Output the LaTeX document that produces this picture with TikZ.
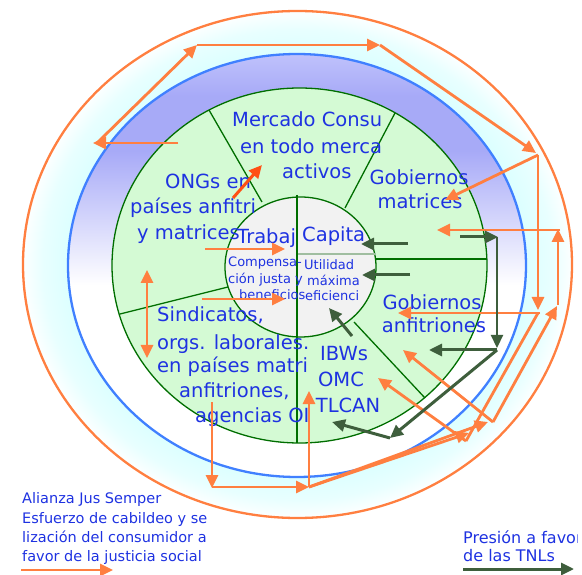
\documentclass[tikz,border=0pt]{standalone}
\usepackage{fontspec}
\setmainfont{DejaVu Sans}
\usetikzlibrary{arrows.meta}
\definecolor{orng}{RGB}{255,127,64}
\definecolor{blu}{RGB}{64,128,255}
\definecolor{grnfill}{RGB}{212,250,212}
\definecolor{grnline}{RGB}{0,110,0}
\definecolor{txt}{RGB}{30,50,225}
\definecolor{dg}{RGB}{62,94,60}
\definecolor{redarr}{RGB}{255,80,20}
\definecolor{innergray}{RGB}{242,242,242}
\definecolor{thingray}{RGB}{160,190,160}
\pgfdeclareradialshading{cyanring}{\pgfpoint{0bp}{0bp}}{rgb(0bp)=(1,1,1); rgb(20bp)=(1,1,1); rgb(20.8bp)=(0.86,1,1); rgb(23.2bp)=(0.91,1,1); rgb(25bp)=(0.99,1,1); rgb(50bp)=(1,1,1)}
\pgfdeclareverticalshading{lavring}{100bp}{rgb(0bp)=(1,1,1); rgb(47.7bp)=(1,1,1); rgb(63.6bp)=(0.655,0.665,0.97); rgb(70bp)=(0.655,0.665,0.97); rgb(75bp)=(0.75,0.76,0.985); rgb(100bp)=(0.75,0.76,0.985)}
\begin{document}
\begin{tikzpicture}[x=1pt,y=-1pt,
  oarr/.style={draw=orng, line width=2.8pt, -{Triangle[length=13pt,width=12pt]}},
  oline/.style={draw=orng, line width=2.8pt},
  garr/.style={draw=dg, line width=3pt, -{Triangle[length=13pt,width=12pt]}},
  sector/.style={draw=grnline, line width=1.3pt},
  big/.style={font=\fontsize{19.5}{24.5}\selectfont, text=txt, inner sep=0pt},
  small/.style={font=\fontsize{13}{16}\selectfont, text=txt, inner sep=0pt},
  leg/.style={font=\fontsize{14.5}{19}\selectfont, text=txt, inner sep=0pt},
  legr/.style={font=\fontsize{16}{19}\selectfont, text=txt, inner sep=0pt}]
\useasboundingbox (0,0) rectangle (582,575);
% rings
\shade[shading=cyanring] (297.5,264.5) ellipse [x radius=274.5pt, y radius=253.5pt];
\draw[orng, line width=2.3pt] (297.5,264.5) ellipse [x radius=274.5pt, y radius=253.5pt];
\shade[shading=lavring] (297,265.5) ellipse [x radius=229pt, y radius=211.5pt];
\draw[blu, line width=2.3pt] (297,265.5) ellipse [x radius=229pt, y radius=211.5pt];
\draw[grnline, line width=1.3pt, fill=grnfill] (299.5,265.5) ellipse [x radius=187.5pt, y radius=177.5pt];
% sectors
\draw[sector] (209,110) -- (262,202);
\draw[sector] (395,113) -- (345,208);
\draw[sector] (120,314) -- (228,287);
\draw[sector] (354,322) -- (425,398);
\draw[sector] (376,259) -- (487,259);
% inner circle
\draw[grnline, line width=1.3pt, fill=innergray] (300.5,267) ellipse [x radius=75.5pt, y radius=70pt];
\draw[thingray, line width=1.2pt] (297,254) -- (376,254);
\draw[grnline, line width=2.4pt] (297,195) -- (297,443);
% texts
\node[big, anchor=base west] (mc1) at (232,127) {Mercado Consu};
\node[big, anchor=base west] (mc2) at (240,154) {en todo merca};
\node[big, anchor=base west] (mc3) at (282,179) {activos};
\node[big, anchor=base west] (ong1) at (165,189) {ONGs en};
\node[big, anchor=base west] (ong2) at (130,214) {países anfitri};
\node[big, anchor=base west] (ong3) at (137,240) {y matrices};
\node[big, anchor=base west] (trab) at (237,244) {Trabaj};
\node[big, anchor=base west] (cap) at (302,242) {Capita};
\node[small, anchor=base west] (cp1) at (228,267) {Compensa-};
\node[small, anchor=base west] (cp2) at (228,284) {ción justa y};
\node[small, anchor=base west] (cp3) at (239,300) {beneficios};
\node[small, anchor=base west] (ut1) at (304,270) {Utilidad};
\node[small, anchor=base west] (ut2) at (307,286) {máxima};
\node[small, anchor=base west] (ut3) at (305,301) {eficienci};
\node[big, anchor=base west] (sin1) at (157,322) {Sindicatos,};
\node[big, anchor=base west] (sin2) at (157,349) {orgs. laborales.};
\node[big, anchor=base west] (sin3) at (157,373) {en países matri};
\node[big, anchor=base west] (sin4) at (179,397) {anfitriones,};
\node[big, anchor=base west] (sin5) at (195,422) {agencias OI};
\node[big, anchor=base] (ibw1) at (344,361) {IBWs};
\node[big, anchor=base] (ibw2) at (341,387) {OMC};
\node[big, anchor=base] (ibw3) at (348,412) {TLCAN};
\node[big, anchor=base] (gm1) at (419,185) {Gobiernos};
\node[big, anchor=base] (gm2) at (420,209) {matrices};
\node[big, anchor=base] (ga1) at (432,309) {Gobiernos};
\node[big, anchor=base] (ga2) at (434,333) {anfitriones};
\node[leg, anchor=base west] (l1) at (22,503) {Alianza Jus Semper};
\node[leg, anchor=base west] (l2) at (22,523) {Esfuerzo de cabildeo y se};
\node[leg, anchor=base west] (l3) at (22,542) {lización del consumidor a};
\node[leg, anchor=base west] (l4) at (22,561) {favor de la justicia social};
\begin{scope}
\clip (0,0) rectangle (577,575);
\node[legr, anchor=base west] (r1) at (463,543) {Presión a favor};
\end{scope}
\node[legr, anchor=base west] (r2) at (463,561) {de las TNLs};
% coordinates for orange paths
\coordinate (o1s) at (178,143); \coordinate (o1e) at (93,143);
\coordinate (o2s) at (97,143); \coordinate (o2e) at (197,45);
\coordinate (o3e) at (380,45); \coordinate (o4e) at (536,153);
\coordinate (TR) at (538,155); \coordinate (o5e) at (538,310);
\coordinate (o6e) at (445,200);
\coordinate (o7s) at (540,313); \coordinate (o7e) at (398,313);
\coordinate (RB) at (558,305); \coordinate (RT) at (558,229);
\coordinate (o9s) at (560,230); \coordinate (o9e) at (437,230);
\coordinate (b1) at (212,402); \coordinate (b2) at (212,488);
\coordinate (b3) at (212,487); \coordinate (S) at (309,487);
\coordinate (b5) at (309,391);
\coordinate (J1t) at (469,433); \coordinate (J2t) at (488,422);
\coordinate (J1) at (466,441); \coordinate (J2) at (493,422);
\coordinate (ibwt) at (378,378); \coordinate (gat) at (403,350);
\coordinate (J1u) at (538,313); \coordinate (RBt) at (557,306);
\coordinate (la1) at (205,249); \coordinate (la2) at (285,249);
\coordinate (lb1) at (202,299); \coordinate (lb2) at (285,299);
\coordinate (da1) at (147,270); \coordinate (da2) at (147,358);
\coordinate (rd1) at (233,198); \coordinate (rd2) at (262,165);
% orange arrows
\draw[oarr] (o1s) -- (o1e);
\draw[oarr] (o2s) -- (o2e);
\draw[oarr] (o2e) -- (o3e);
\draw[oarr] (o3e) -- (o4e);
\draw[oarr] (TR) -- (o5e);
\draw[oarr] (TR) -- (o6e);
\draw[oarr] (o7s) -- (o7e);
\draw[oarr] (RB) -- (RT);
\draw[oarr] (o9s) -- (o9e);
\draw[oarr] (b1) -- (b2);
\draw[oarr] (b3) -- (S);
\draw[oarr] (S) -- (b5);
\draw[oarr] (S) -- (J1t);
\draw[oarr] (S) -- (J2t);
\draw[oarr] (J1) -- (ibwt);
\draw[oline] (J1) -- (J1u);
\draw[oarr] (J2) -- (gat);
\draw[oarr] (J2) -- (RBt);
\draw[oarr] (la1) -- (la2);
\draw[oarr] (lb1) -- (lb2);
\draw[oarr, {Triangle[length=13pt,width=12pt]}-{Triangle[length=13pt,width=12pt]}] (da1) -- (da2);
\draw[draw=redarr, line width=3pt, -{Triangle[length=13pt,width=12pt]}] (rd1) -- (rd2);
% dark green arrows
\coordinate (g1s) at (408,244); \coordinate (g1e) at (361,244);
\coordinate (g2s) at (410,275); \coordinate (g2e) at (362,275);
\coordinate (g3s) at (460,237); \coordinate (g3e) at (498,237);
\coordinate (g4s) at (497,237); \coordinate (g4e) at (497,348);
\coordinate (gJ) at (497,350); \coordinate (g5e) at (429,350);
\coordinate (g6e) at (390,438); \coordinate (g7e) at (332,422);
\coordinate (g8s) at (352,336); \coordinate (g8e) at (329,308);
\draw[garr] (g1s) -- (g1e);
\draw[garr] (g2s) -- (g2e);
\draw[garr] (g3s) -- (g3e);
\draw[garr, line width=2.2pt] (g4s) -- (g4e);
\draw[garr] (gJ) -- (g5e);
\draw[garr] (gJ) -- (g6e);
\draw[garr] (g6e) -- (g7e);
\draw[garr] (g8s) -- (g8e);
% legend arrows
\coordinate (lo1) at (21,570); \coordinate (lo2) at (113,570);
\coordinate (lg1) at (463,569); \coordinate (lg2) at (574,569);
\draw[oarr] (lo1) -- (lo2);
\draw[garr] (lg1) -- (lg2);
\end{tikzpicture}
\end{document}
